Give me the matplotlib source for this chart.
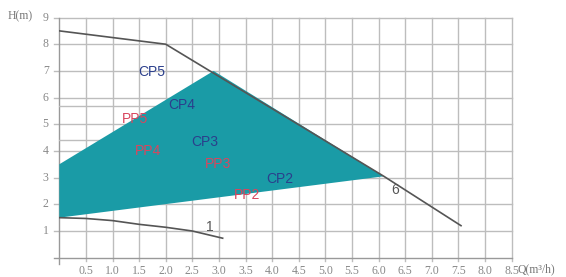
import matplotlib.pyplot as plt
import numpy as np

# Max curve (CP5 / "6") and min curve ("1")
max_q = [0.0, 2.0, 6.1, 7.55]
max_h = [8.5, 8.0, 3.05, 1.2]
min_q = [0.0, 0.5, 1.0, 1.5, 2.0, 2.5, 3.07]
min_h = [1.5, 1.47, 1.39, 1.25, 1.14, 1.0, 0.73]

# Operating area (teal polygon)
area_q = [0.0, 0.0, 2.9, 6.1]
area_h = [1.5, 3.5, 7.0, 3.05]

# Curve labels
cp_labels = ['CP5', 'CP4', 'CP3', 'CP2']
cp_q = [1.74, 2.3, 2.73, 4.14]
cp_h = [6.95, 5.72, 4.33, 2.94]
pp_labels = ['PP5', 'PP4', 'PP3', 'PP2']
pp_q = [1.42, 1.66, 2.98, 3.52]
pp_h = [5.2, 4.0, 3.5, 2.35]

x_ticks = [0.5, 1.0, 1.5, 2.0, 2.5, 3.0, 3.5, 4.0, 4.5, 5.0, 5.5, 6.0, 6.5, 7.0, 7.5, 8.0, 8.5]
y_ticks = [1, 2, 3, 4, 5, 6, 7, 8, 9]

fig = plt.figure(figsize=(5.66, 2.77), dpi=100)
ax = fig.add_axes([0.1048, 0.0697, 0.799, 0.867])
ax.set_xlim(0, 8.5)
ax.set_ylim(0, 9)

grid_c = '#bdbdbd'
for q in x_ticks:
    ax.plot([q, q], [-0.12, 9], color=grid_c, lw=1.0, clip_on=False, zorder=1)
for h in y_ticks:
    ax.plot([-0.1, 8.5], [h, h], color=grid_c, lw=1.0, clip_on=False, zorder=1)
ax.plot([-0.1, 8.5], [0, 0], color='#999999', lw=1.0, clip_on=False, zorder=1)
ax.plot([0, 0], [-0.25, 9], color='#999999', lw=1.0, clip_on=False, zorder=1)
# extra reference lines on the left
for h in [5.7, 4.4]:
    ax.plot([0, 3.5], [h, h], color=grid_c, lw=1.0, zorder=1)

ax.fill(area_q, area_h, color='#1a9ba6', lw=0, zorder=2)
ax.plot(max_q, max_h, color='#555555', lw=1.2, zorder=3)
ax.plot(min_q, min_h, color='#555555', lw=1.2, zorder=3)

for t, q, h in zip(cp_labels, cp_q, cp_h):
    ax.text(q, h, t, color='#2b3f8c', fontsize=10, family='Liberation Sans',
            ha='center', va='center', zorder=4)
for t, q, h in zip(pp_labels, pp_q, pp_h):
    ax.text(q, h, t, color='#d8465e', fontsize=10, family='Liberation Sans',
            ha='center', va='center', zorder=4)
ax.text(6.32, 2.53, '6', color='#555555', fontsize=10, family='Liberation Sans',
        ha='center', va='center')
ax.text(2.83, 1.16, '1', color='#555555', fontsize=10, family='Liberation Sans',
        ha='center', va='center')

for s in ax.spines.values():
    s.set_visible(False)
ax.set_xticks([])
ax.set_yticks([])
for q in x_ticks:
    ax.text(q, -0.5, '%.1f' % q, color='#888888', fontsize=8.5, family='Liberation Serif',
            ha='center', va='center')
for h in y_ticks:
    ax.text(-0.2, h, str(h), color='#888888', fontsize=8.5, family='Liberation Serif',
            ha='right', va='center')
ax.text(-0.5, 9.05, 'H(m)', color='#777777', fontsize=8.5, family='Liberation Serif',
        ha='right', va='center')
ax.text(8.62, -0.45, 'Q(m³/h)', color='#777777', fontsize=8.5, family='Liberation Serif',
        ha='left', va='center')

fig.savefig('out.png', dpi=100)
